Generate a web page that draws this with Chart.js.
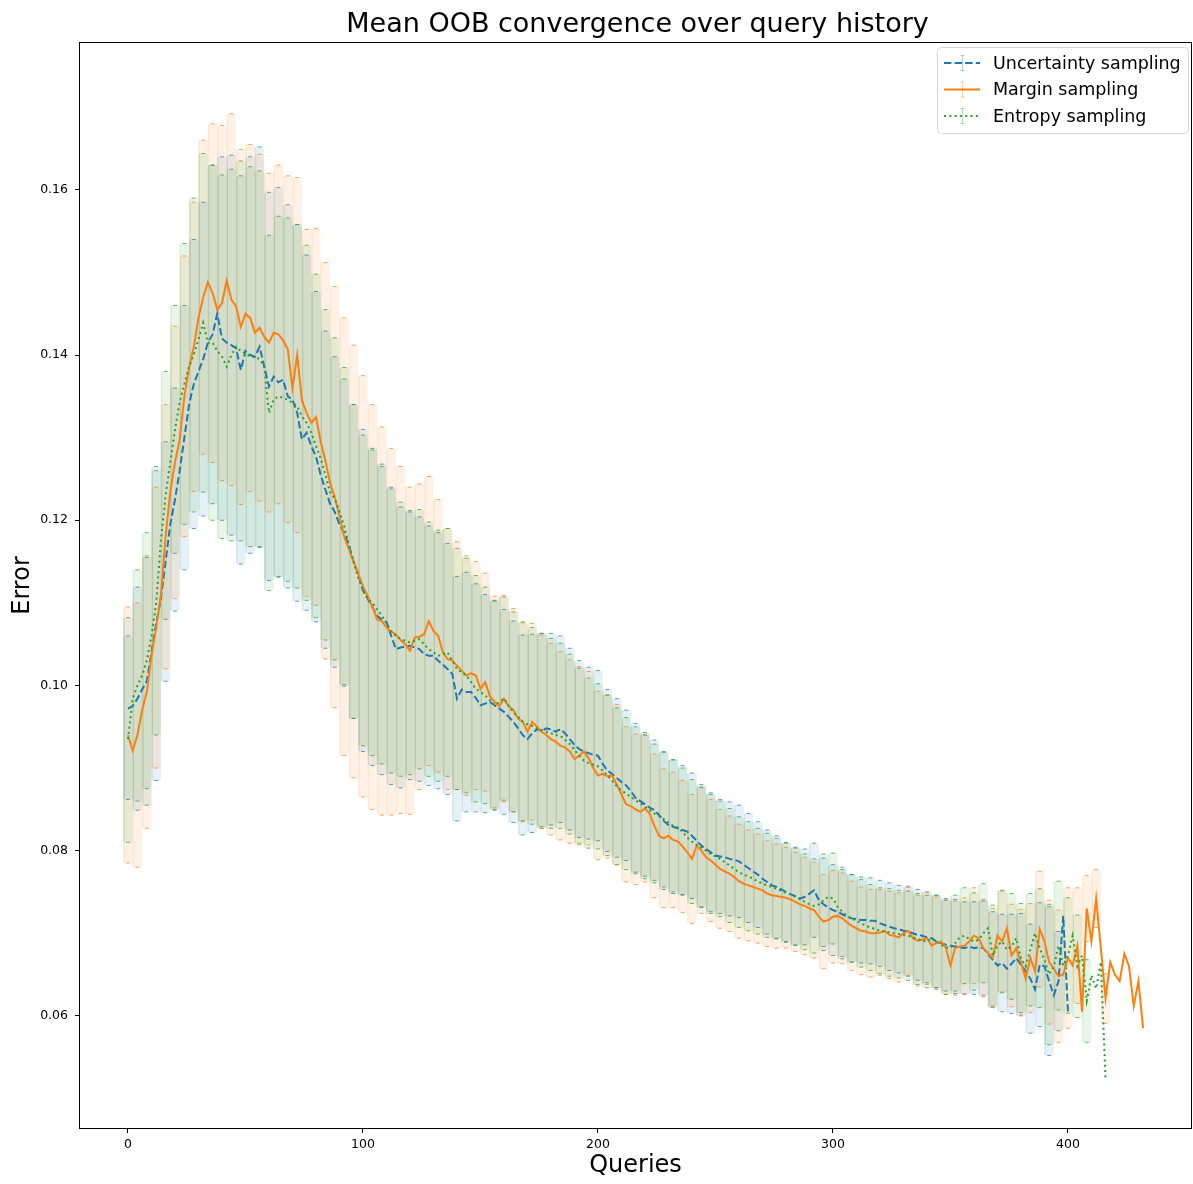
<!DOCTYPE html>
<html>
<head>
<meta charset="utf-8">
<script src="https://cdn.jsdelivr.net/npm/chart.js@4.4.1/dist/chart.umd.min.js"></script>
<style>
  html, body { margin: 0; padding: 0; background: #fff; }
  canvas { display: block; }
</style>
</head>
<body>
<canvas id="oob" width="1193" height="1184"></canvas>
<script>
// mean curves are sampled every 2 queries, error bars every 4
const MEAN_STEP = 2;
const ERR_STEP = 4;

const TITLE = 'Mean OOB convergence over query history';
const xTicks = [0, 100, 200, 300, 400];
const yTicks = [0.06, 0.08, 0.10, 0.12, 0.14, 0.16];

const uncertaintyMean = [
  0.0972, 0.0975, 0.0984, 0.0995, 0.1005, 0.1040, 0.1075, 0.1105, 0.1150, 0.1195,
  0.1225, 0.1260, 0.1300, 0.1340, 0.1365, 0.1380, 0.1395, 0.1415, 0.1425, 0.1450,
  0.1420, 0.1415, 0.1412, 0.1408, 0.1382, 0.1405, 0.1400, 0.1398, 0.1410, 0.1386,
  0.1362, 0.1374, 0.1367, 0.1370, 0.1350, 0.1346, 0.1330, 0.1298, 0.1306, 0.1290,
  0.1277, 0.1255, 0.1237, 0.1220, 0.1210, 0.1195, 0.1185, 0.1170, 0.1150, 0.1135,
  0.1115, 0.1105, 0.1095, 0.1084, 0.1080, 0.1077, 0.1060, 0.1044, 0.1046, 0.1047,
  0.1048, 0.1046, 0.1044, 0.1038, 0.1036, 0.1036, 0.1030, 0.1025, 0.1020, 0.1014,
  0.0984, 0.0995, 0.0992, 0.0992, 0.0985, 0.0976, 0.0978, 0.0980, 0.0976, 0.0972,
  0.0968, 0.0962, 0.0956, 0.0948, 0.0940, 0.0935, 0.0942, 0.0947, 0.0945, 0.0948,
  0.0947, 0.0944, 0.0947, 0.0942, 0.0935, 0.0928, 0.0923, 0.0920, 0.0918, 0.0916,
  0.0915, 0.0905, 0.0897, 0.0893, 0.0888, 0.0883, 0.0879, 0.0872, 0.0864, 0.0860,
  0.0856, 0.0852, 0.0849, 0.0843, 0.0836, 0.0831, 0.0829, 0.0827, 0.0825, 0.0823,
  0.0818, 0.0812, 0.0806, 0.0802, 0.0798, 0.0794, 0.0793, 0.0792, 0.0790, 0.0789,
  0.0787, 0.0783, 0.0779, 0.0775, 0.0771, 0.0766, 0.0762, 0.0758, 0.0756, 0.0753,
  0.0750, 0.0747, 0.0745, 0.0742, 0.0744, 0.0748, 0.0752, 0.0740, 0.0735, 0.0731,
  0.0728, 0.0726, 0.0723, 0.0720, 0.0718, 0.0717, 0.0716, 0.0716, 0.0715, 0.0715,
  0.0712, 0.0710, 0.0708, 0.0706, 0.0705, 0.0703, 0.0702, 0.0700, 0.0698, 0.0697,
  0.0695, 0.0694, 0.0690, 0.0688, 0.0686, 0.0685, 0.0684, 0.0683, 0.0682, 0.0684,
  0.0682, 0.0683, 0.0682, 0.0675, 0.0668, 0.0661, 0.0664, 0.0657, 0.0663, 0.0670,
  0.0662, 0.0654, 0.0645, 0.0632, 0.0662, 0.0660, 0.0642, 0.0625, 0.0642, 0.0721,
  0.0605
];
const uncertaintyStd = [
  0.0110, 0.0135, 0.0150, 0.0190, 0.0145, 0.0135, 0.0160, 0.0175, 0.0190, 0.0205,
  0.0220, 0.0230, 0.0235, 0.0240, 0.0242, 0.0235, 0.0236, 0.0232, 0.0228, 0.0215,
  0.0200, 0.0192, 0.0188, 0.0186, 0.0190, 0.0195, 0.0192, 0.0188, 0.0180, 0.0170,
  0.0162, 0.0160, 0.0157, 0.0155, 0.0152, 0.0148, 0.0145, 0.0138, 0.0132, 0.0127,
  0.0124, 0.0122, 0.0121, 0.0120, 0.0118, 0.0116, 0.0113, 0.0110, 0.0107, 0.0104,
  0.0103, 0.0098, 0.0096, 0.0091, 0.0090, 0.0087, 0.0085, 0.0083, 0.0081, 0.0078,
  0.0076, 0.0074, 0.0072, 0.0069, 0.0069, 0.0068, 0.0066, 0.0064, 0.0063, 0.0062,
  0.0060, 0.0059, 0.0058, 0.0057, 0.0056, 0.0055, 0.0054, 0.0053, 0.0052, 0.0052,
  0.0052, 0.0053, 0.0053, 0.0054, 0.0055, 0.0055, 0.0056, 0.0056, 0.0057, 0.0056,
  0.0056, 0.0057, 0.0058, 0.0059, 0.0060, 0.0062, 0.0066, 0.0075, 0.0090, 0.0060,
  0
];

const marginMean = [
  0.0940, 0.0921, 0.0940, 0.0970, 0.0992, 0.1036, 0.1070, 0.1110, 0.1180, 0.1235,
  0.1270, 0.1298, 0.1350, 0.1385, 0.1410, 0.1445, 0.1470, 0.1488, 0.1475, 0.1455,
  0.1463, 0.1490, 0.1467, 0.1459, 0.1434, 0.1450, 0.1445, 0.1427, 0.1433, 0.1422,
  0.1415, 0.1427, 0.1425, 0.1418, 0.1407, 0.1360, 0.1400, 0.1345, 0.1330, 0.1318,
  0.1325, 0.1295, 0.1272, 0.1245, 0.1228, 0.1205, 0.1180, 0.1165, 0.1150, 0.1135,
  0.1120, 0.1108, 0.1095, 0.1080, 0.1078, 0.1070, 0.1065, 0.1062, 0.1055, 0.1050,
  0.1042, 0.1058, 0.1059, 0.1062, 0.1078, 0.1066, 0.1060, 0.1040, 0.1032, 0.1030,
  0.1024, 0.1018, 0.1012, 0.1015, 0.1012, 0.0996, 0.1004, 0.0987, 0.0980, 0.0975,
  0.0984, 0.0975, 0.0970, 0.0960, 0.0956, 0.0944, 0.0956, 0.0950, 0.0944, 0.0940,
  0.0935, 0.0932, 0.0927, 0.0925, 0.0920, 0.0911, 0.0915, 0.0920, 0.0912, 0.0900,
  0.0891, 0.0893, 0.0890, 0.0891, 0.0880, 0.0868, 0.0856, 0.0854, 0.0850, 0.0847,
  0.0851, 0.0845, 0.0830, 0.0818, 0.0815, 0.0818, 0.0813, 0.0811, 0.0805, 0.0798,
  0.0790, 0.0806, 0.0800, 0.0792, 0.0788, 0.0783, 0.0778, 0.0775, 0.0772, 0.0768,
  0.0763, 0.0760, 0.0758, 0.0756, 0.0754, 0.0752, 0.0748, 0.0746, 0.0745, 0.0744,
  0.0743, 0.0741, 0.0738, 0.0735, 0.0733, 0.0730, 0.0728, 0.0720, 0.0714, 0.0716,
  0.0720, 0.0721, 0.0718, 0.0713, 0.0709, 0.0706, 0.0703, 0.0702, 0.0700, 0.0700,
  0.0701, 0.0703, 0.0698, 0.0697, 0.0695, 0.0700, 0.0703, 0.0694, 0.0691, 0.0692,
  0.0694, 0.0685, 0.0688, 0.0690, 0.0683, 0.0661, 0.0682, 0.0684, 0.0685, 0.0690,
  0.0697, 0.0694, 0.0682, 0.0676, 0.0670, 0.0697, 0.0690, 0.0706, 0.0673, 0.0682,
  0.0665, 0.0645, 0.0670, 0.0654, 0.0705, 0.0690, 0.0665, 0.0657, 0.0648, 0.0650,
  0.0670, 0.0661, 0.0685, 0.0605, 0.0730, 0.0690, 0.0742, 0.0682, 0.0621, 0.0665,
  0.0650, 0.0642, 0.0675, 0.0660, 0.0612, 0.0642, 0.0585
];
const marginStd = [
  0.0155, 0.0160, 0.0165, 0.0170, 0.0160, 0.0165, 0.0170, 0.0175, 0.0190, 0.0205,
  0.0215, 0.0225, 0.0215, 0.0210, 0.0210, 0.0205, 0.0205, 0.0210, 0.0215, 0.0222,
  0.0228, 0.0240, 0.0255, 0.0265, 0.0262, 0.0255, 0.0245, 0.0235, 0.0222, 0.0210,
  0.0198, 0.0185, 0.0175, 0.0165, 0.0158, 0.0150, 0.0145, 0.0138, 0.0132, 0.0128,
  0.0125, 0.0123, 0.0121, 0.0119, 0.0117, 0.0116, 0.0114, 0.0111, 0.0108, 0.0105,
  0.0102, 0.0099, 0.0097, 0.0094, 0.0091, 0.0089, 0.0087, 0.0084, 0.0082, 0.0080,
  0.0078, 0.0076, 0.0074, 0.0072, 0.0070, 0.0069, 0.0067, 0.0066, 0.0064, 0.0063,
  0.0061, 0.0060, 0.0059, 0.0058, 0.0057, 0.0056, 0.0055, 0.0054, 0.0053, 0.0053,
  0.0052, 0.0053, 0.0054, 0.0054, 0.0055, 0.0056, 0.0056, 0.0057, 0.0057, 0.0058,
  0.0058, 0.0059, 0.0060, 0.0061, 0.0062, 0.0064, 0.0066, 0.0070, 0.0075, 0.0080,
  0.0085, 0.0070, 0.0040, 0.0035, 0.0030, 0, 0, 0, 0
];

const entropyMean = [
  0.0935, 0.0984, 0.1000, 0.1012, 0.1030, 0.1060, 0.1100, 0.1175, 0.1230, 0.1270,
  0.1310, 0.1343, 0.1365, 0.1386, 0.1400, 0.1419, 0.1439, 0.1415, 0.1415, 0.1405,
  0.1398, 0.1386, 0.1400, 0.1410, 0.1405, 0.1402, 0.1398, 0.1398, 0.1395, 0.1386,
  0.1330, 0.1346, 0.1350, 0.1348, 0.1346, 0.1342, 0.1338, 0.1326, 0.1318, 0.1306,
  0.1290, 0.1275, 0.1255, 0.1234, 0.1226, 0.1210, 0.1193, 0.1170, 0.1150, 0.1130,
  0.1115, 0.1105, 0.1100, 0.1092, 0.1085, 0.1075, 0.1066, 0.1060, 0.1056, 0.1054,
  0.1052, 0.1054, 0.1056, 0.1050, 0.1044, 0.1040, 0.1036, 0.1038, 0.1040, 0.1030,
  0.1020, 0.1016, 0.1012, 0.1004, 0.0996, 0.0992, 0.0988, 0.0982, 0.0976, 0.0980,
  0.0984, 0.0975, 0.0968, 0.0962, 0.0956, 0.0953, 0.0951, 0.0948, 0.0946, 0.0944,
  0.0942, 0.0940, 0.0939, 0.0934, 0.0929, 0.0922, 0.0915, 0.0909, 0.0906, 0.0904,
  0.0902, 0.0897, 0.0891, 0.0885, 0.0878, 0.0873, 0.0869, 0.0865, 0.0861, 0.0857,
  0.0853, 0.0849, 0.0845, 0.0842, 0.0838, 0.0834, 0.0830, 0.0828, 0.0823, 0.0816,
  0.0811, 0.0807, 0.0804, 0.0800, 0.0796, 0.0793, 0.0790, 0.0786, 0.0782, 0.0778,
  0.0774, 0.0771, 0.0769, 0.0766, 0.0763, 0.0760, 0.0758, 0.0756, 0.0754, 0.0751,
  0.0749, 0.0747, 0.0744, 0.0741, 0.0738, 0.0735, 0.0733, 0.0735, 0.0740, 0.0744,
  0.0742, 0.0732, 0.0726, 0.0721, 0.0718, 0.0715, 0.0712, 0.0709, 0.0707, 0.0705,
  0.0703, 0.0702, 0.0701, 0.0700, 0.0699, 0.0698, 0.0697, 0.0695, 0.0693, 0.0691,
  0.0690, 0.0694, 0.0690, 0.0686, 0.0683, 0.0682, 0.0688, 0.0695, 0.0697, 0.0693,
  0.0690, 0.0692, 0.0700, 0.0706, 0.0673, 0.0685, 0.0690, 0.0680, 0.0684, 0.0694,
  0.0670, 0.0660, 0.0680, 0.0700, 0.0682, 0.0668, 0.0650, 0.0660, 0.0685, 0.0661,
  0.0673, 0.0697, 0.0660, 0.0673, 0.0618, 0.0649, 0.0633, 0.0665, 0.0524
];
const entropyStd = [
  0.0125, 0.0140, 0.0155, 0.0160, 0.0150, 0.0150, 0.0170, 0.0190, 0.0205, 0.0215,
  0.0220, 0.0225, 0.0230, 0.0230, 0.0228, 0.0215, 0.0218, 0.0220, 0.0220, 0.0215,
  0.0208, 0.0200, 0.0195, 0.0192, 0.0190, 0.0188, 0.0185, 0.0180, 0.0172, 0.0166,
  0.0160, 0.0157, 0.0154, 0.0152, 0.0150, 0.0146, 0.0142, 0.0137, 0.0131, 0.0126,
  0.0123, 0.0121, 0.0120, 0.0119, 0.0117, 0.0115, 0.0112, 0.0109, 0.0106, 0.0103,
  0.0100, 0.0097, 0.0095, 0.0092, 0.0089, 0.0087, 0.0084, 0.0082, 0.0080, 0.0077,
  0.0075, 0.0073, 0.0072, 0.0070, 0.0069, 0.0067, 0.0066, 0.0064, 0.0063, 0.0061,
  0.0060, 0.0059, 0.0058, 0.0057, 0.0056, 0.0055, 0.0054, 0.0053, 0.0053, 0.0052,
  0.0052, 0.0053, 0.0053, 0.0054, 0.0055, 0.0056, 0.0056, 0.0057, 0.0058, 0.0058,
  0.0059, 0.0060, 0.0061, 0.0062, 0.0064, 0.0066, 0.0068, 0.0072, 0.0085, 0.0078,
  0.0070, 0.0062, 0.0050, 0, 0
];

const series = [
  { label: 'Uncertainty sampling', mean: uncertaintyMean, std: uncertaintyStd, color: [31, 119, 180], dash: [7.4, 3.2] },
  { label: 'Margin sampling', mean: marginMean, std: marginStd, color: [255, 127, 14], dash: [] },
  { label: 'Entropy sampling', mean: entropyMean, std: entropyStd, color: [44, 160, 44], dash: [2, 3.3] }
];

function rgba(c, a) {
  return 'rgba(' + c[0] + ',' + c[1] + ',' + c[2] + ',' + a + ')';
}

const datasets = [];
series.forEach((s, k) => {
  const bars = [];
  const caps = [];
  s.std.forEach((sd, i) => {
    const q = i * ERR_STEP;
    const m = s.mean[q / MEAN_STEP];
    bars.push({ x: q, y: [m - sd, m + sd] });
    if (sd > 0) caps.push({ x: q, y: m + sd }, { x: q, y: m - sd });
  });

  // error bars: one translucent column per sample
  datasets.push({
    type: 'bar',
    data: bars,
    backgroundColor: rgba(s.color, 0.11),
    borderColor: rgba(s.color, 0.14),
    borderWidth: { left: 1, right: 0, top: 0, bottom: 0 },
    borderSkipped: false,
    barPercentage: 1,
    categoryPercentage: 1,
    grouped: false,
    order: 20 - k
  });
  // caps at both ends of every error bar
  datasets.push({
    type: 'line',
    data: caps,
    showLine: false,
    pointStyle: 'line',
    pointRadius: 2,
    pointBorderWidth: 1,
    pointBorderColor: rgba(s.color, 0.7),
    order: 10 - k
  });
  // mean curve
  datasets.push({
    type: 'line',
    data: s.mean.map((v, i) => ({ x: i * MEAN_STEP, y: v })),
    borderColor: rgba(s.color, 1),
    borderWidth: 2,
    borderDash: s.dash,
    pointRadius: 0,
    tension: 0,
    fill: false,
    order: 3 - k
  });
});

const decorations = {
  id: 'decorations',
  afterDraw(chart) {
    const { ctx, chartArea: a } = chart;
    ctx.save();

    ctx.strokeStyle = '#000';
    ctx.lineWidth = 1;
    ctx.strokeRect(a.left + 0.5, a.top + 0.5, a.right - a.left - 1, a.bottom - a.top - 1);

    ctx.fillStyle = '#000';
    ctx.font = '27px "DejaVu Sans"';
    ctx.textAlign = 'center';
    ctx.textBaseline = 'middle';
    ctx.fillText(TITLE, (a.left + a.right) / 2 + 2, 25);

    // legend box, upper right
    const x0 = a.right - 255, y0 = a.top + 5;
    ctx.beginPath();
    ctx.roundRect(x0 + 0.5, y0 + 0.5, 251, 86, 4);
    ctx.fillStyle = 'rgba(255,255,255,0.8)';
    ctx.fill();
    ctx.strokeStyle = '#d6d6d6';
    ctx.stroke();

    series.forEach((s, i) => {
      const y = y0 + 16 + i * 26.5;
      const cx = x0 + 25;
      ctx.setLineDash([]);
      ctx.lineWidth = 1;
      ctx.strokeStyle = rgba(s.color, 0.35);
      ctx.beginPath();
      ctx.moveTo(cx + 0.5, y - 8); ctx.lineTo(cx + 0.5, y + 8);
      ctx.moveTo(cx - 1.5, y - 7.5); ctx.lineTo(cx + 2.5, y - 7.5);
      ctx.moveTo(cx - 1.5, y + 7.5); ctx.lineTo(cx + 2.5, y + 7.5);
      ctx.stroke();

      ctx.setLineDash(s.dash);
      ctx.lineWidth = 2;
      ctx.strokeStyle = rgba(s.color, 1);
      ctx.beginPath();
      ctx.moveTo(x0 + 7, y); ctx.lineTo(x0 + 43, y);
      ctx.stroke();
      ctx.setLineDash([]);

      ctx.fillStyle = '#000';
      ctx.font = '17.5px "DejaVu Sans"';
      ctx.textAlign = 'left';
      ctx.textBaseline = 'middle';
      ctx.fillText(s.label, x0 + 56, y + 1);
    });
    ctx.restore();
  }
};

Chart.defaults.font.family = '"DejaVu Sans", sans-serif';
Chart.defaults.color = '#000';

new Chart(document.getElementById('oob'), {
  type: 'line',
  data: { datasets },
  options: {
    responsive: false,
    devicePixelRatio: 1,
    animation: false,
    events: [],
    layout: { autoPadding: false, padding: { top: 42, right: 1, bottom: 0, left: 0 } },
    plugins: {
      legend: { display: false },
      title: { display: false },
      tooltip: { enabled: false }
    },
    scales: {
      x: {
        type: 'linear',
        min: -20.85,
        max: 452.8,
        offset: false,
        afterBuildTicks: s => { s.ticks = xTicks.map(v => ({ value: v })); },
        afterFit: s => { s.height = 55; s.paddingLeft = 0; s.paddingRight = 0; },
        ticks: { font: { size: 12.5 }, color: '#000', padding: 4, maxRotation: 0 },
        grid: { display: true, offset: false, drawOnChartArea: false, drawTicks: true, tickLength: 4, color: '#000' },
        border: { display: false },
        title: { display: true, text: 'Queries', font: { size: 24 }, color: '#000', padding: { top: 0, bottom: 4 } }
      },
      y: {
        type: 'linear',
        min: 0.0463,
        max: 0.1779,
        afterBuildTicks: s => { s.ticks = yTicks.map(v => ({ value: v })); },
        afterFit: s => { s.width = 79; s.paddingTop = 0; s.paddingBottom = 0; },
        ticks: { font: { size: 12.5 }, color: '#000', padding: 7, callback: v => v.toFixed(2) },
        grid: { display: true, offset: false, drawOnChartArea: false, drawTicks: true, tickLength: 4, color: '#000' },
        border: { display: false },
        title: { display: true, text: 'Error', font: { size: 24 }, color: '#000', padding: { top: 8, bottom: 0 } }
      }
    }
  },
  plugins: [decorations]
});
</script>
</body>
</html>
